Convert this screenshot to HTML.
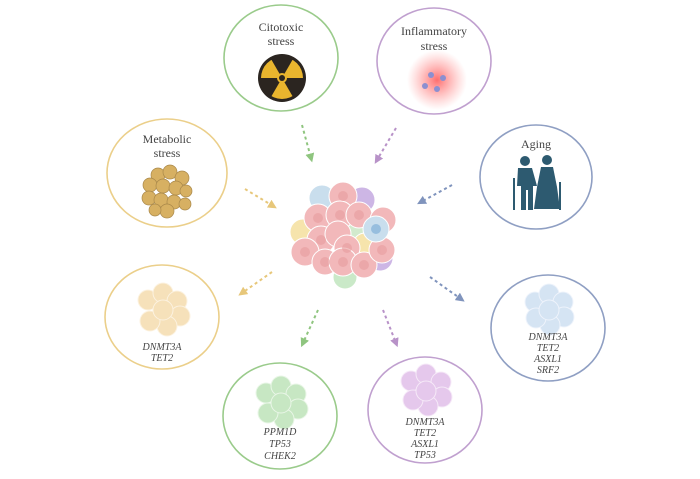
<!DOCTYPE html>
<html><head><meta charset="utf-8"><style>
body{margin:0;background:#fff;width:700px;height:479px;overflow:hidden}
svg{display:block}
.t{font-family:"Liberation Serif",serif;font-size:12px;fill:#444;text-anchor:middle}
.g{font-family:"Liberation Serif",serif;font-style:italic;font-size:10px;fill:#444;text-anchor:middle}
</style></head><body>
<svg width="700" height="479" viewBox="0 0 700 479">
<defs>
<radialGradient id="infl"><stop offset="0" stop-color="#f55" stop-opacity=".85"/><stop offset="1" stop-color="#f88" stop-opacity="0"/></radialGradient>
<marker id="ah" viewBox="0 0 10 10" refX="5" refY="5" markerWidth="4.5" markerHeight="4.5" orient="auto"><path d="M0,0L10,5L0,10z" fill="context-stroke"/></marker>
</defs>
<g fill="none" stroke-width="1.6">
<ellipse cx="281" cy="58" rx="57" ry="53" stroke="#9acb8b"/>
<ellipse cx="434" cy="61" rx="57" ry="53" stroke="#c0a0cf"/>
<ellipse cx="167" cy="173" rx="60" ry="54" stroke="#ebcf8a"/>
<ellipse cx="536" cy="177" rx="56" ry="52" stroke="#8f9fc3"/>
<ellipse cx="162" cy="317" rx="57" ry="52" stroke="#ebcf8a"/>
<ellipse cx="548" cy="328" rx="57" ry="53" stroke="#8f9fc3"/>
<ellipse cx="280" cy="416" rx="57" ry="53" stroke="#9acb8b"/>
<ellipse cx="425" cy="410" rx="57" ry="53" stroke="#c0a0cf"/>
</g>
<text class="t" x="281" y="31">Citotoxic</text><text class="t" x="281" y="45">stress</text>
<text class="t" x="434" y="35">Inflammatory</text><text class="t" x="434" y="50">stress</text>
<text class="t" x="167" y="143">Metabolic</text><text class="t" x="167" y="157">stress</text>
<text class="t" x="536" y="148">Aging</text>
<!-- radiation -->
<circle cx="282" cy="78" r="24" fill="#2b2520"/><circle cx="282" cy="78" r="21" fill="#e9b52e"/>
<g fill="#2b2520">
<path d="M282,78 L271,59 A21,21 0 0 1 293,59Z"/>
<path d="M282,78 L304,78 A21,21 0 0 1 293,97Z"/>
<path d="M282,78 L271,97 A21,21 0 0 1 260,78Z"/>
</g>
<circle cx="282" cy="78" r="5" fill="#e9b52e"/><circle cx="282" cy="78" r="3" fill="#2b2520"/>
<!-- inflammation -->
<circle cx="437" cy="80" r="30" fill="url(#infl)"/>
<g fill="#8c8fd0"><circle cx="431" cy="75" r="3"/><circle cx="443" cy="78" r="3"/><circle cx="425" cy="86" r="3"/><circle cx="437" cy="89" r="3"/></g>
<!-- metabolic -->
<g fill="#d7b062" stroke="#a9884a" stroke-width=".7">
<circle cx="158" cy="175" r="7"/><circle cx="170" cy="172" r="7"/><circle cx="182" cy="178" r="7"/><circle cx="150" cy="185" r="7"/><circle cx="163" cy="186" r="7"/><circle cx="176" cy="188" r="7"/><circle cx="186" cy="191" r="6"/><circle cx="149" cy="198" r="7"/><circle cx="161" cy="200" r="7"/><circle cx="174" cy="202" r="7"/><circle cx="185" cy="204" r="6"/><circle cx="167" cy="211" r="7"/><circle cx="155" cy="210" r="6"/></g>
<!-- aging -->
<g fill="#2d5a70">
<circle cx="525" cy="161" r="5"/><path d="M518,168 h14 l5,18 h-4 v24 h-5 v-20 h-2 v20 h-5 v-24 h-4z"/>
<rect x="513" y="178" width="2" height="32"/>
<circle cx="547" cy="160" r="5"/><path d="M541,167 h12 l4,20 l3,22 h-26 l3,-22z"/>
<rect x="559" y="182" width="2" height="28"/>
</g>
<!-- bottom clusters -->
<g opacity=".75">
<g fill="#f3d7a3" stroke="#fbeed6"><circle cx="148" cy="300" r="10"/><circle cx="163" cy="293" r="10"/><circle cx="177" cy="301" r="10"/><circle cx="180" cy="316" r="10"/><circle cx="167" cy="326" r="10"/><circle cx="150" cy="321" r="10"/><circle cx="163" cy="310" r="10"/></g>
<g fill="#b5e0b0" stroke="#e2f3df"><circle cx="266" cy="393" r="10"/><circle cx="281" cy="386" r="10"/><circle cx="296" cy="394" r="10"/><circle cx="298" cy="409" r="10"/><circle cx="284" cy="419" r="10"/><circle cx="268" cy="413" r="10"/><circle cx="281" cy="403" r="10"/></g>
<g fill="#ddb6e6" stroke="#f3e3f6"><circle cx="411" cy="381" r="10"/><circle cx="426" cy="374" r="10"/><circle cx="441" cy="382" r="10"/><circle cx="442" cy="397" r="10"/><circle cx="428" cy="406" r="10"/><circle cx="413" cy="400" r="10"/><circle cx="426" cy="391" r="10"/></g>
<g fill="#c8dbf0" stroke="#e9f0fa"><circle cx="535" cy="302" r="10"/><circle cx="549" cy="294" r="10"/><circle cx="563" cy="302" r="10"/><circle cx="564" cy="317" r="10"/><circle cx="550" cy="325" r="10"/><circle cx="536" cy="318" r="10"/><circle cx="549" cy="310" r="10"/></g>
</g>
<text class="g" x="162" y="350">DNMT3A</text><text class="g" x="162" y="361">TET2</text>
<text class="g" x="280" y="435">PPM1D</text><text class="g" x="280" y="447">TP53</text><text class="g" x="280" y="459">CHEK2</text>
<text class="g" x="425" y="425">DNMT3A</text><text class="g" x="425" y="436">TET2</text><text class="g" x="425" y="447">ASXL1</text><text class="g" x="425" y="458">TP53</text>
<text class="g" x="548" y="340">DNMT3A</text><text class="g" x="548" y="351">TET2</text><text class="g" x="548" y="362">ASXL1</text><text class="g" x="548" y="373">SRF2</text>
<!-- central cluster -->
<g opacity=".92">
<g stroke="#fff" stroke-width="1">
<circle cx="322" cy="198" r="13" fill="#c5dcec"/><circle cx="362" cy="200" r="13" fill="#c9b0e3"/>
<circle cx="303" cy="232" r="13" fill="#f6e2a6"/><circle cx="380" cy="258" r="13" fill="#c9b0e3"/>
<circle cx="345" cy="277" r="12" fill="#c6e8c4"/><circle cx="360" cy="228" r="12" fill="#cfe9c9"/><circle cx="365" cy="245" r="12" fill="#f6e2a6"/>
<g fill="#f1b3b5">
<circle cx="343" cy="196" r="14"/><circle cx="318" cy="218" r="14"/><circle cx="340" cy="215" r="14"/><circle cx="359" cy="215" r="13"/><circle cx="383" cy="220" r="13"/>
<circle cx="321" cy="240" r="14"/><circle cx="338" cy="234" r="13"/><circle cx="347" cy="248" r="13"/>
<circle cx="305" cy="252" r="14"/><circle cx="325" cy="262" r="13"/><circle cx="343" cy="262" r="14"/><circle cx="364" cy="265" r="13"/><circle cx="382" cy="250" r="13"/></g>
<circle cx="376" cy="229" r="13" fill="#c5dcec"/>
</g>
<g fill="#e79597" opacity=".6">
<circle cx="343" cy="196" r="5"/><circle cx="318" cy="218" r="5"/><circle cx="340" cy="215" r="5"/><circle cx="359" cy="215" r="5"/><circle cx="321" cy="240" r="5"/><circle cx="347" cy="248" r="5"/><circle cx="305" cy="252" r="5"/><circle cx="325" cy="262" r="5"/><circle cx="343" cy="262" r="5"/><circle cx="364" cy="265" r="5"/><circle cx="382" cy="250" r="5"/></g>
<circle cx="376" cy="229" r="5" fill="#8fb9dc"/>
</g>
<!-- arrows -->
<g fill="none" stroke-width="2" stroke-dasharray="3,3" marker-end="url(#ah)">
<path d="M302,125 L311,158" stroke="#8fc57f"/>
<path d="M396,128 L377,160" stroke="#b892c8"/>
<path d="M245,189 L273,206" stroke="#e7c77a"/>
<path d="M452,185 L421,202" stroke="#8094bd"/>
<path d="M272,272 L242,293" stroke="#e7c77a"/>
<path d="M430,277 L461,299" stroke="#8094bd"/>
<path d="M318,310 L303,343" stroke="#8fc57f"/>
<path d="M383,310 L396,343" stroke="#b892c8"/>
</g>
</svg>
</body></html>
